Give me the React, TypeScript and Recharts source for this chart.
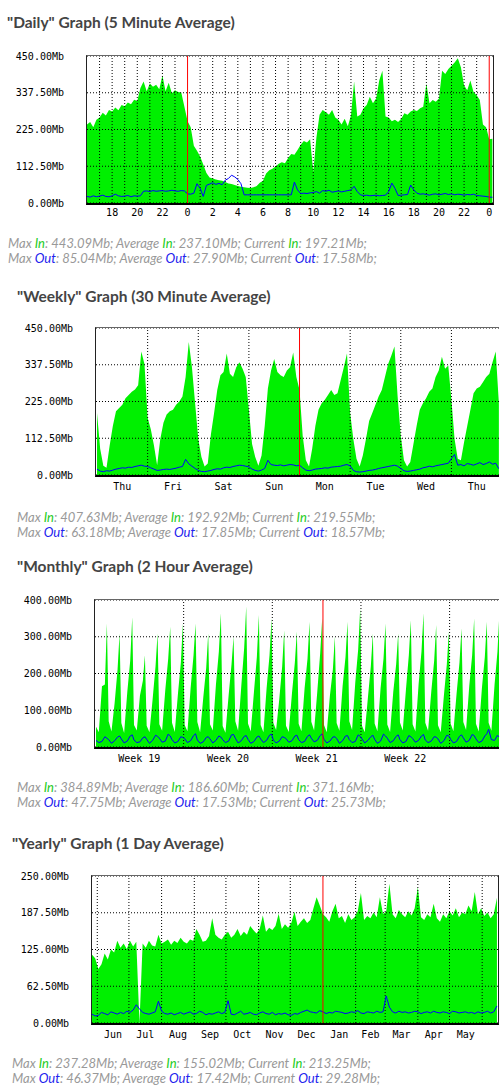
import React from "react";
import { Area, ComposedChart, Line, ReferenceLine, XAxis, YAxis } from "recharts";

const GREEN = "#00f000";
const BLUE = "#0000ff";
const RED = "#ff0000";
const TICK = { fill: "#000", fontSize: 10, fontFamily: "'DejaVu Sans Mono', monospace" };

// ---- Daily (5 minute average), x = hour, 16:00 .. 00:15 day after next
const dailyIn = [
  240, 248, 232, 255, 262, 276, 268, 285, 280, 292, 284, 300, 296, 308, 302, 316,
  312, 352, 372, 342, 366, 356, 362, 348, 390, 342, 368, 336, 345, 340, 338, 295,
  250, 232, 175, 160, 142, 118, 92, 78, 75, 72, 70, 68, 64, 60, 58, 55,
  52, 50, 48, 47, 46, 48, 52, 62, 68, 90, 100, 105, 112, 120, 125, 122,
  138, 150, 148, 162, 178, 190, 185, 195, 95, 200, 270, 285, 278, 270, 285, 262,
  255, 240, 258, 235, 268, 372, 265, 270, 290, 300, 325, 305, 320, 375, 405, 265,
  262, 250, 255, 248, 258, 275, 270, 280, 285, 282, 290, 295, 365, 305, 315, 310,
  320, 405, 395, 410, 420, 430, 443, 415, 360, 345, 375, 340, 330, 315, 240, 232,
  195, 197,
];
const dailyOut = [
  20, 18, 22, 19, 21, 24, 20, 19, 22, 27, 22, 20, 21, 23, 19, 22,
  21, 22, 36, 37, 35, 38, 36, 37, 38, 36, 37, 39, 37, 36, 38, 37,
  28, 27, 30, 59, 45, 20, 54, 58, 62, 57, 60, 56, 70, 75, 85, 80,
  72, 59, 25, 25, 25, 25, 25, 25, 25, 25, 25, 25, 25, 25, 25, 25,
  25, 25, 64, 40, 29, 30, 29, 31, 32, 35, 30, 38, 36, 39, 33, 35,
  37, 34, 36, 38, 40, 51, 35, 25, 23, 24, 22, 23, 24, 22, 23, 24,
  35, 61, 45, 23, 24, 25, 26, 55, 40, 30, 27, 28, 26, 24, 27, 28,
  25, 27, 29, 26, 28, 25, 27, 26, 24, 26, 25, 27, 23, 22, 21, 20,
  18, 17.6,
];
const dailyLabels = [18, 20, 22, 24, 26, 28, 30, 32, 34, 36, 38, 40, 42, 44, 46, 48];
const dailyGrid = [17, 18, 19, 20, 21, 22, 23, 25, 26, 27, 28, 29, 30, 31, 32, 33, 34, 35, 36, 37, 38, 39, 40, 41, 42, 43, 44, 45, 46, 47];
const dailyRed = [24, 48];
const dailyY = [0, 112.5, 225, 337.5, 450];

// ---- Weekly (30 minute average), x = days from Friday 00:00
const weeklyIn = [
  190, 80, 28, 22, 90, 150, 195, 205, 215, 235, 245, 255, 262, 275, 378, 340,
  175, 140, 90, 30, 110, 160, 185, 195, 200, 215, 225, 240, 300, 407, 330, 220,
  110, 55, 26, 35, 125, 190, 260, 305, 315, 372, 310, 300, 330, 345, 325, 300,
  200, 95, 55, 28, 60, 150, 265, 320, 355, 315, 305, 300, 320, 330, 375, 300,
  260, 120, 45, 26, 80, 150, 200, 220, 230, 245, 260, 245, 250, 290, 330, 372,
  190, 110, 50, 26, 60, 110, 165, 190, 215, 240, 260, 300, 340, 365, 393, 240,
  120, 45, 26, 40, 95, 150, 200, 220, 235, 255, 265, 300, 320, 362, 325, 335,
  230, 110, 50, 45, 100, 150, 200, 250, 265, 270, 285, 300, 310, 345, 378, 220,
];
const weeklyOut = [
  18, 12, 10, 13, 12, 15, 18, 20, 22, 21, 24, 23, 26, 28, 30, 27,
  26, 22, 18, 14, 15, 17, 18, 17, 19, 21, 24, 26, 48, 34, 27, 20,
  14, 11, 10, 12, 14, 17, 19, 18, 22, 24, 23, 26, 28, 30, 29, 27,
  25, 18, 14, 12, 15, 20, 45, 32, 30, 29, 31, 28, 30, 32, 31, 28,
  30, 22, 15, 13, 15, 18, 19, 20, 22, 21, 24, 25, 26, 27, 30, 32,
  28, 14, 10, 9, 10, 12, 14, 15, 17, 20, 22, 24, 26, 28, 30, 27,
  20, 13, 11, 12, 14, 16, 18, 22, 24, 27, 25, 28, 30, 32, 34, 36,
  50, 63, 30, 32, 28, 35, 33, 30, 34, 38, 32, 35, 40, 33, 36, 19,
];
const weeklyDays = ["Thu", "Fri", "Sat", "Sun", "Mon", "Tue", "Wed", "Thu"];
const weeklyGrid = [0, 1, 2, 4, 5, 6];
const weeklyRed = [3];
const weeklyY = [0, 112.5, 225, 337.5, 450];

// ---- Monthly (2 hour average), x = days, 5 samples per day
const monthlyOffsets = [0.08, 0.3, 0.55, 0.78, 0.94];
const monthlyIn = [
  55, 40, 165, 170, 336, 70, 42, 120, 210, 309, 65, 38, 150, 235, 353, 60, 45, 140, 180, 250,
  58, 40, 130, 220, 309, 62, 44, 155, 240, 327, 66, 41, 145, 230, 336, 60, 43, 160, 250, 336,
  68, 40, 135, 215, 309, 62, 45, 170, 260, 364, 57, 39, 140, 225, 300, 70, 44, 165, 270, 382,
  64, 42, 150, 245, 359, 60, 40, 160, 250, 350, 66, 46, 130, 220, 318, 58, 41, 145, 230, 314,
  63, 43, 160, 240, 341, 69, 45, 150, 255, 350, 60, 40, 140, 210, 300, 65, 44, 165, 245, 341,
  70, 46, 175, 265, 377, 58, 40, 135, 220, 309, 64, 43, 160, 240, 336, 61, 41, 150, 225, 309,
  67, 45, 155, 250, 345, 62, 42, 170, 260, 364, 66, 44, 150, 235, 332, 59, 40, 140, 225, 314,
  64, 43, 145, 230, 323, 68, 46, 165, 250, 350, 63, 42, 160, 245, 341, 66, 44, 170, 260, 371,
];
const monthlyOut = [
  18, 12, 15, 28, 24, 20, 10, 17, 27, 30, 22, 11, 16, 30, 33, 19, 12, 14, 25, 28,
  21, 10, 18, 32, 29, 24, 13, 16, 35, 30, 20, 11, 15, 28, 26, 23, 12, 17, 31, 36,
  19, 10, 14, 26, 28, 22, 11, 18, 30, 27, 20, 12, 16, 33, 34, 24, 11, 17, 29, 31,
  21, 10, 15, 27, 30, 22, 12, 18, 32, 35, 19, 11, 16, 28, 26, 23, 13, 17, 30, 32,
  20, 12, 15, 29, 33, 24, 14, 18, 31, 36, 21, 11, 16, 27, 28, 23, 10, 17, 30, 31,
  20, 12, 15, 33, 29, 22, 11, 18, 28, 32, 21, 10, 16, 35, 30, 24, 12, 17, 29, 33,
  20, 11, 15, 31, 28, 23, 13, 18, 30, 34, 19, 12, 16, 28, 27, 22, 10, 17, 32, 30,
  21, 11, 15, 29, 33, 25, 13, 18, 34, 31, 22, 12, 16, 30, 36, 48, 20, 18, 32, 26,
];
const monthlyWeeks = ["Week 19", "Week 20", "Week 21", "Week 22"];
const monthlyGrid = [7, 14, 21, 28];
const monthlyRed = [18];
const monthlyY = [0, 100, 200, 300, 400];

// ---- Yearly (1 day average), x = days from 1 Jun, every 3 days
const yearlyIn = [
  116, 110, 92, 100, 118, 108, 125, 120, 140, 128,
  135, 126, 140, 130, 138, 0, 135, 128, 140, 132,
  130, 150, 135, 138, 142, 133, 140, 136, 145, 138,
  135, 142, 140, 160, 150, 138, 140, 148, 178, 150,
  145, 142, 150, 155, 145, 150, 160, 148, 155, 150,
  165, 158, 152, 160, 183, 155, 162, 158, 165, 186,
  160, 168, 162, 170, 189, 165, 172, 178, 170, 175,
  195, 214, 200, 185, 180, 172, 190, 203, 178, 182,
  170, 185, 175, 180, 190, 221, 175, 182, 178, 188,
  180, 214, 185, 190, 237, 185, 178, 192, 185, 180,
  190, 183, 195, 231, 180, 175, 185, 180, 203, 178,
  172, 185, 178, 190, 183, 195, 180, 188, 185, 200,
  190, 223, 185, 195, 182, 188, 178, 185, 213,
];
const yearlyOut = [
  15, 12, 13, 18, 16, 14, 19, 17, 15, 18,
  16, 20, 18, 22, 31, 24, 18, 16, 15, 17,
  19, 37, 20, 16, 15, 17, 14, 16, 18, 15,
  17, 19, 15, 16, 20, 18, 14, 16, 15, 17,
  19, 16, 18, 38, 15, 14, 17, 20, 15, 16,
  18, 15, 14, 17, 19, 16, 15, 18, 14, 16,
  15, 17, 14, 13, 16, 15, 18, 20, 22, 19,
  18, 17, 21, 19, 16, 18, 17, 20, 19, 18,
  16, 17, 19, 18, 21, 17, 16, 19, 18, 17,
  20, 18, 19, 46, 27, 19, 17, 20, 18, 19,
  17, 18, 20, 19, 16, 18, 19, 17, 20, 18,
  17, 19, 18, 16, 20, 19, 17, 18, 19, 17,
  18, 16, 19, 17, 18, 20, 17, 19, 29,
];
const yearlyMonths = ["Jun", "Jul", "Aug", "Sep", "Oct", "Nov", "Dec", "Jan", "Feb", "Mar", "Apr", "May"];
const yearlyMonthMid = [15, 45.5, 76.5, 107, 137.5, 168, 198.5, 229.5, 259, 288.5, 319, 349.5];
const yearlyGrid = [0, 30, 61, 92, 122, 153, 183, 245, 273, 304, 334, 365];
const yearlyRed = [214];
const yearlyY = [0, 62.5, 125, 187.5, 250];

type Pt = { x: number; in: number; out: number };

const zip = (xs: number[], ins: number[], outs: number[]): Pt[] =>
  xs.map((x, i) => ({ x, in: ins[i], out: outs[i] }));

const dailyData = zip(dailyIn.map((_, i) => 16 + i * 0.25), dailyIn, dailyOut);
const weeklyData = zip(weeklyIn.map((_, i) => -1 + i / 16), weeklyIn, weeklyOut);
const monthlyData = zip(
  monthlyIn.map((_, i) => Math.floor(i / 5) + monthlyOffsets[i % 5]),
  monthlyIn,
  monthlyOut,
);
const yearlyData = zip(yearlyIn.map((_, i) => -5 + i * 3), yearlyIn, yearlyOut);

type Stats = [string, string, string];

function Legend({ x, y, inStats, outStats }: { x: number; y: number; inStats: Stats; outStats: Stats }) {
  const row = (name: string, color: string, s: Stats) => (
    <div style={{ height: 15, lineHeight: "15px" }}>
      Max <span style={{ color }}>{name}</span>: {s[0]}; Average <span style={{ color }}>{name}</span>: {s[1]};
      Current <span style={{ color }}>{name}</span>: {s[2]};
    </div>
  );
  return (
    <div
      style={{
        position: "absolute",
        left: x,
        top: y - 7,
        font: "italic 13px Lato, sans-serif",
        color: "#999",
        whiteSpace: "nowrap",
      }}
    >
      {row("In", "#22cc22", inStats)}
      {row("Out", "#2222ee", outStats)}
    </div>
  );
}

type PanelProps = {
  title: string;
  titleX: number;
  titleY: number;
  plot: { l: number; t: number; r: number; b: number };
  data: Pt[];
  xDomain: [number, number];
  xTicks: number[];
  xFormat: (v: number) => string;
  xTickMargin: number;
  gridX: number[];
  redX: number[];
  yTicks: number[];
  legendX: number;
  legendY: number;
  inStats: Stats;
  outStats: Stats;
};

function Panel(p: PanelProps) {
  const { l, t, r, b } = p.plot;
  const yMax = p.yTicks[p.yTicks.length - 1];
  return (
    <>
      <div
        style={{
          position: "absolute",
          left: p.titleX,
          top: p.titleY - 10,
          font: "bold 15.5px Lato, sans-serif",
          lineHeight: "20px",
          color: "#444",
          whiteSpace: "nowrap",
        }}
      >
        {p.title}
      </div>
      <div style={{ position: "absolute", left: 0, top: t - 8 }}>
        <ComposedChart
          width={r}
          height={b - t + 8 + 25}
          data={p.data}
          margin={{ top: 8, right: 0, bottom: 0, left: 0 }}
        >
          <XAxis
            dataKey="x"
            type="number"
            domain={p.xDomain}
            ticks={p.xTicks}
            tickFormatter={p.xFormat}
            interval={0}
            allowDataOverflow
            axisLine={false}
            tickLine={false}
            tick={TICK}
            tickMargin={p.xTickMargin}
            height={25}
          />
          <YAxis
            type="number"
            domain={[0, yMax]}
            ticks={p.yTicks}
            tickFormatter={(v: number) => `${v.toFixed(2)}Mb`}
            interval={0}
            allowDataOverflow
            axisLine={false}
            tickLine={false}
            tick={TICK}
            tickMargin={17}
            width={l}
          />
          <Area
            type="linear"
            dataKey="in"
            stroke="none"
            fill={GREEN}
            fillOpacity={1}
            dot={false}
            activeDot={false}
            isAnimationActive={false}
          />
          {p.yTicks.map((y) => (
            <ReferenceLine key={`h${y}`} y={y} stroke="#000" strokeDasharray="1 2" />
          ))}
          {p.gridX.map((x) => (
            <ReferenceLine key={`v${x}`} x={x} stroke="#000" strokeDasharray="1 2" />
          ))}
          <Line
            type="linear"
            dataKey="out"
            stroke={BLUE}
            strokeWidth={1}
            dot={false}
            activeDot={false}
            isAnimationActive={false}
          />
          {p.redX.map((x) => (
            <ReferenceLine key={`r${x}`} x={x} stroke={RED} />
          ))}
        </ComposedChart>
      </div>
      <div
        style={{
          position: "absolute",
          left: l - 1,
          top: t - 1,
          width: r - l + 2,
          height: b - t + 3,
          boxSizing: "border-box",
          borderTop: "1px solid #666",
          borderLeft: "1px solid #222",
          borderRight: "1px solid #222",
          borderBottom: "2px solid #000",
          pointerEvents: "none",
        }}
      />
      <Legend x={p.legendX} y={p.legendY} inStats={p.inStats} outStats={p.outStats} />
    </>
  );
}

export default function App() {
  return (
    <div
      style={{
        position: "absolute",
        left: 0,
        top: 0,
        width: 499,
        height: 1086,
        overflow: "hidden",
        background: "#fff",
      }}
    >
      <Panel
        title={'"Daily" Graph (5 Minute Average)'}
        titleX={7}
        titleY={22}
        plot={{ l: 87, t: 56, r: 493, b: 203 }}
        data={dailyData}
        xDomain={[16, 48.3]}
        xTicks={dailyLabels}
        xFormat={(v) => String(v % 24)}
        xTickMargin={0}
        gridX={dailyGrid}
        redX={dailyRed}
        yTicks={dailyY}
        legendX={8}
        legendY={243}
        inStats={["443.09Mb", "237.10Mb", "197.21Mb"]}
        outStats={["85.04Mb", "27.90Mb", "17.58Mb"]}
      />
      <Panel
        title={'"Weekly" Graph (30 Minute Average)'}
        titleX={17}
        titleY={296}
        plot={{ l: 96, t: 328, r: 499, b: 475 }}
        data={weeklyData}
        xDomain={[-1.02, 6.94]}
        xTicks={weeklyDays.map((_, i) => i - 0.5)}
        xFormat={(v) => weeklyDays[Math.round(v + 0.5)] ?? ""}
        xTickMargin={2}
        gridX={weeklyGrid}
        redX={weeklyRed}
        yTicks={weeklyY}
        legendX={17}
        legendY={517}
        inStats={["407.63Mb", "192.92Mb", "219.55Mb"]}
        outStats={["63.18Mb", "17.85Mb", "18.57Mb"]}
      />
      <Panel
        title={'"Monthly" Graph (2 Hour Average)'}
        titleX={17}
        titleY={566}
        plot={{ l: 95, t: 600, r: 499, b: 747 }}
        data={monthlyData}
        xDomain={[0, 31.9]}
        xTicks={monthlyWeeks.map((_, i) => 3.5 + i * 7)}
        xFormat={(v) => monthlyWeeks[Math.round((v - 3.5) / 7)] ?? ""}
        xTickMargin={2}
        gridX={monthlyGrid}
        redX={monthlyRed}
        yTicks={monthlyY}
        legendX={17}
        legendY={787}
        inStats={["384.89Mb", "186.60Mb", "371.16Mb"]}
        outStats={["47.75Mb", "17.53Mb", "25.73Mb"]}
      />
      <Panel
        title={'"Yearly" Graph (1 Day Average)'}
        titleX={12}
        titleY={843}
        plot={{ l: 92, t: 876, r: 498, b: 1023 }}
        data={yearlyData}
        xDomain={[-5, 380]}
        xTicks={yearlyMonthMid}
        xFormat={(v) => yearlyMonths[yearlyMonthMid.indexOf(v)] ?? ""}
        xTickMargin={2}
        gridX={yearlyGrid}
        redX={yearlyRed}
        yTicks={yearlyY}
        legendX={12}
        legendY={1063}
        inStats={["237.28Mb", "155.02Mb", "213.25Mb"]}
        outStats={["46.37Mb", "17.42Mb", "29.28Mb"]}
      />
    </div>
  );
}
